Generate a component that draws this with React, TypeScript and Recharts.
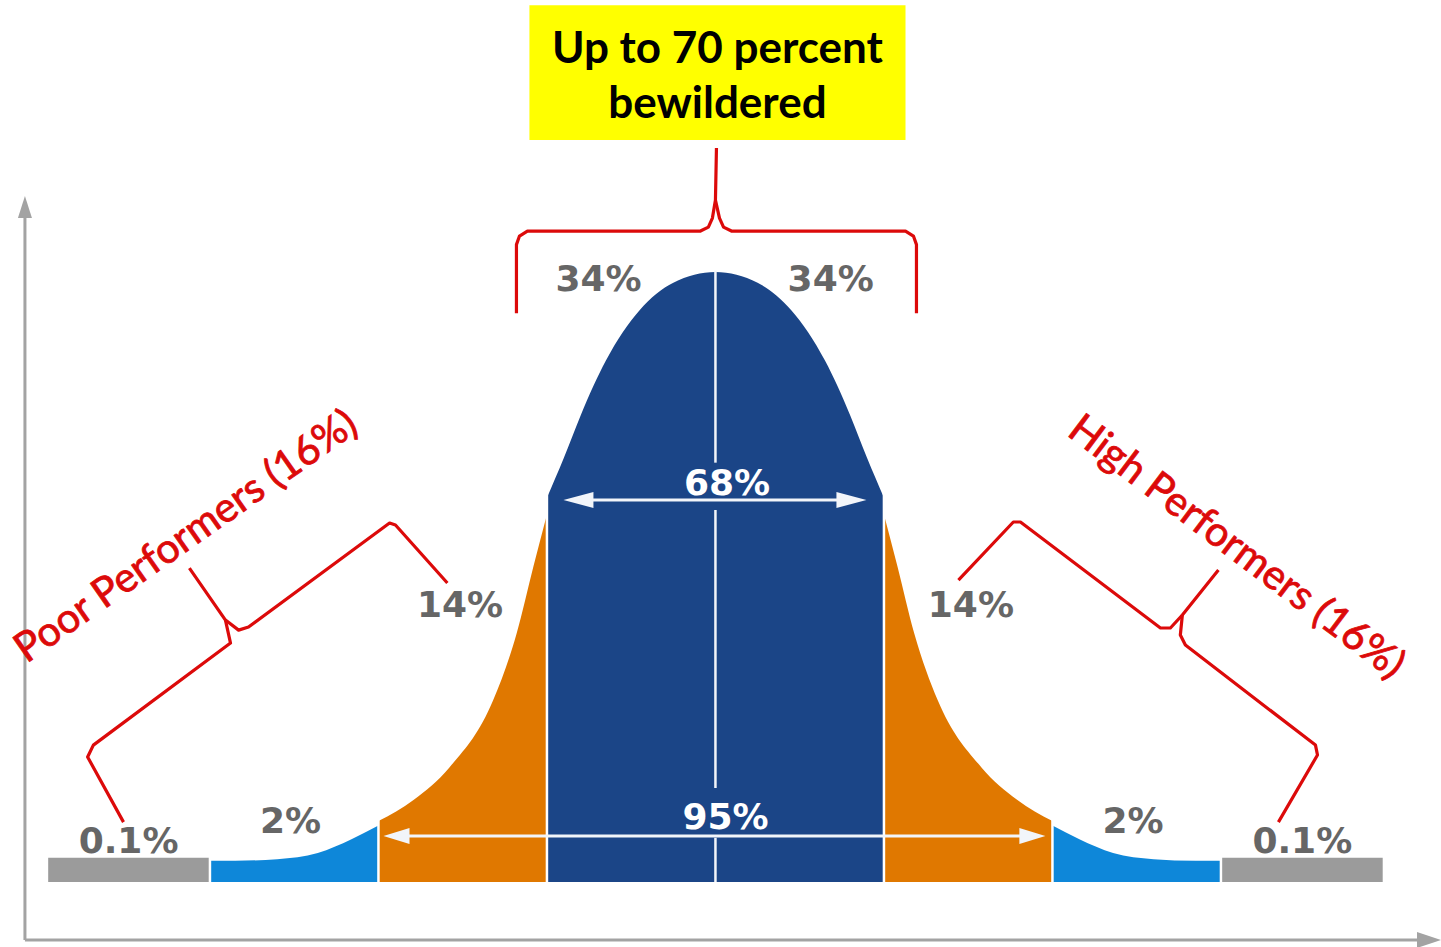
import React from 'react';
import {
  ComposedChart,
  Area,
  Line,
  XAxis,
  YAxis,
  ReferenceLine,
  ReferenceDot,
  ReferenceArea,
} from 'recharts';

// x = distance from the mean in standard deviations, y = relative density (peak 0.40)
const grayTailLeft = [
  { x: -3.96, y: 0.016 },
  { x: -3, y: 0.016 },
];
const blueTailLeft = [
  { x: -3, y: 0.014 },
  { x: -2.85, y: 0.014 },
  { x: -2.6, y: 0.015 },
  { x: -2.36, y: 0.019 },
  { x: -2.16, y: 0.028 },
  { x: -2, y: 0.037 },
];
const orangeLeft = [
  { x: -2, y: 0.04 },
  { x: -1.79, y: 0.054 },
  { x: -1.58, y: 0.075 },
  { x: -1.32, y: 0.119 },
  { x: -1.18, y: 0.163 },
  { x: -1.08, y: 0.207 },
  { x: -1, y: 0.241 },
];
const centerBand = [
  { x: -1, y: 0.252 },
  { x: -0.9, y: 0.278 },
  { x: -0.8, y: 0.306 },
  { x: -0.65, y: 0.342 },
  { x: -0.45, y: 0.375 },
  { x: -0.25, y: 0.393 },
  { x: 0, y: 0.4 },
  { x: 0.25, y: 0.393 },
  { x: 0.45, y: 0.375 },
  { x: 0.65, y: 0.342 },
  { x: 0.8, y: 0.306 },
  { x: 0.9, y: 0.278 },
  { x: 1, y: 0.252 },
];
const orangeRight = [
  { x: 1, y: 0.241 },
  { x: 1.08, y: 0.207 },
  { x: 1.18, y: 0.163 },
  { x: 1.32, y: 0.119 },
  { x: 1.58, y: 0.075 },
  { x: 1.79, y: 0.054 },
  { x: 2, y: 0.04 },
];
const blueTailRight = [
  { x: 2, y: 0.037 },
  { x: 2.16, y: 0.028 },
  { x: 2.36, y: 0.019 },
  { x: 2.6, y: 0.015 },
  { x: 2.85, y: 0.014 },
  { x: 3, y: 0.014 },
];
const grayTailRight = [
  { x: 3, y: 0.016 },
  { x: 3.96, y: 0.016 },
];

const bandLabels = ['0.1%', '2%', '14%', '34%', '34%', '14%', '2%', '0.1%'];
const bandLabelX = [-3.483, -2.522, -1.516, -0.694, 0.684, 1.516, 2.478, 3.483];
const bandLabelY = [0.019, 0.032, 0.174, 0.3875, 0.3875, 0.174, 0.032, 0.019];

const spanLabels = ['68%', '95%'];
const titleLines = ['Up to 70 percent', 'bewildered'];
const groupLabels = ['Poor Performers (16%)', 'High Performers (16%)'];

// red curly brackets, in chart units
const braceTopLeft = [
  { x: -1.181, y: 0.373 },
  { x: -1.181, y: 0.418 },
  { x: -1.163, y: 0.4236 },
  { x: -1.116, y: 0.4269 },
  { x: -0.089, y: 0.4269 },
  { x: -0.042, y: 0.4295 },
  { x: -0.018, y: 0.4354 },
  { x: 0, y: 0.4472 },
  { x: 0.006, y: 0.4813 },
];
const braceTopRight = [
  { x: 0, y: 0.4472 },
  { x: 0.024, y: 0.4354 },
  { x: 0.048, y: 0.4295 },
  { x: 0.095, y: 0.4269 },
  { x: 1.128, y: 0.4269 },
  { x: 1.175, y: 0.4236 },
  { x: 1.193, y: 0.418 },
  { x: 1.193, y: 0.373 },
];
const bracePoorA = [
  { x: -3.513, y: 0.0393 },
  { x: -3.726, y: 0.082 },
  { x: -3.692, y: 0.0898 },
  { x: -2.878, y: 0.1567 },
  { x: -2.908, y: 0.1718 },
  { x: -3.122, y: 0.2059 },
];
const bracePoorB = [
  { x: -2.908, y: 0.1718 },
  { x: -2.83, y: 0.1652 },
  { x: -2.771, y: 0.1672 },
  { x: -1.934, y: 0.2354 },
  { x: -1.899, y: 0.2341 },
  { x: -1.591, y: 0.1961 },
];
const braceHighA = [
  { x: 1.442, y: 0.198 },
  { x: 1.768, y: 0.2361 },
  { x: 1.81, y: 0.2361 },
  { x: 2.641, y: 0.1666 },
  { x: 2.7, y: 0.1666 },
  { x: 2.771, y: 0.1751 },
  { x: 2.985, y: 0.2046 },
];
const braceHighB = [
  { x: 2.771, y: 0.1751 },
  { x: 2.759, y: 0.162 },
  { x: 2.789, y: 0.1554 },
  { x: 3.561, y: 0.0898 },
  { x: 3.573, y: 0.0833 },
  { x: 3.341, y: 0.0393 },
];

const bands = [
  { key: 'g1', data: grayTailLeft, color: '#9b9b9b' },
  { key: 'b1', data: blueTailLeft, color: '#0e87d9' },
  { key: 'o1', data: orangeLeft, color: '#e07800' },
  { key: 'c', data: centerBand, color: '#1b4587' },
  { key: 'o2', data: orangeRight, color: '#e07800' },
  { key: 'b2', data: blueTailRight, color: '#0e87d9' },
  { key: 'g2', data: grayTailRight, color: '#9b9b9b' },
];
const braces = [braceTopLeft, braceTopRight, bracePoorA, bracePoorB, braceHighA, braceHighB];

const RED = '#dc0a0a';
const AXIS = '#a3a3a3';
const ARROW = '#f2f5fa';

function arrowShape(both: boolean, color: string, width: number, len: number, half: number) {
  return (p: any) => {
    const { x1, y1, x2, y2 } = p;
    const a = Math.atan2(y2 - y1, x2 - x1);
    const head = (tx: number, ty: number, d: number) => {
      const bx = tx - len * Math.cos(d);
      const by = ty - len * Math.sin(d);
      const nx = -Math.sin(d) * half;
      const ny = Math.cos(d) * half;
      return `${tx},${ty} ${bx + nx},${by + ny} ${bx - nx},${by - ny}`;
    };
    const sx = both ? x1 + (len - 2) * Math.cos(a) : x1;
    const sy = both ? y1 + (len - 2) * Math.sin(a) : y1;
    const ex = x2 - (len - 2) * Math.cos(a);
    const ey = y2 - (len - 2) * Math.sin(a);
    return (
      <g>
        <line x1={sx} y1={sy} x2={ex} y2={ey} stroke={color} strokeWidth={width} />
        <polygon points={head(x2, y2, a)} fill={color} />
        {both && <polygon points={head(x1, y1, a + Math.PI)} fill={color} />}
      </g>
    );
  };
}

function textShape(label: string, style: any, rotate = 0) {
  return (p: any) => (
    <text
      x={p.cx}
      y={p.cy}
      textAnchor="middle"
      transform={rotate ? `rotate(${rotate} ${p.cx} ${p.cy})` : undefined}
      {...style}
    >
      {label}
    </text>
  );
}

const pctStyle = {
  fontFamily: 'DejaVu Sans, Verdana, sans-serif',
  fontWeight: 700,
  fontSize: 36,
};
const redStyle = {
  fontFamily: 'Lato, sans-serif',
  fontSize: 41,
  fill: RED,
  stroke: RED,
  strokeWidth: 0.8,
  dominantBaseline: 'central',
};
const titleStyle = {
  fontFamily: 'Lato, sans-serif',
  fontWeight: 700,
  fontSize: 44,
  fill: '#000',
};

export default function App() {
  return (
    <div style={{ position: 'absolute', left: 0, top: 0, width: 1441, height: 947, background: '#fff' }}>
      <ComposedChart width={1441} height={947} margin={{ top: 0, right: 0, bottom: 0, left: 0 }}>
        <XAxis type="number" dataKey="x" domain={[-4.246, 4.306]} hide allowDataOverflow />
        <YAxis type="number" dataKey="y" domain={[-0.0426, 0.5784]} hide allowDataOverflow />

        {bands.map((b) => (
          <Area
            key={b.key}
            data={b.data}
            dataKey="y"
            type="monotone"
            baseValue={0}
            fill={b.color}
            fillOpacity={1}
            stroke="none"
            dot={false}
            activeDot={false}
            isAnimationActive={false}
          />
        ))}

        {braces.map((pts, i) => (
          <Line
            key={`brace-${i}`}
            data={pts}
            dataKey="y"
            type="linear"
            stroke={RED}
            strokeWidth={3.2}
            strokeLinejoin="round"
            dot={false}
            activeDot={false}
            isAnimationActive={false}
          />
        ))}

        {/* white gaps between the bands */}
        {[
          [-3, 0.02],
          [-2, 0.045],
          [-1, 0.26],
          [1, 0.26],
          [2, 0.045],
          [3, 0.02],
        ].map(([x, top]) => (
          <ReferenceLine
            key={`sep-${x}`}
            segment={[
              { x, y: -0.002 },
              { x, y: top },
            ]}
            stroke="#ffffff"
            strokeWidth={2.5}
          />
        ))}

        {/* mean line, broken around the span labels */}
        {[
          [0, 0.029],
          [0.0616, 0.244],
          [0.275, 0.401],
        ].map(([y1, y2]) => (
          <ReferenceLine
            key={`mean-${y1}`}
            segment={[
              { x: 0, y: y1 },
              { x: 0, y: y2 },
            ]}
            stroke={ARROW}
            strokeWidth={2.5}
          />
        ))}

        <ReferenceLine
          segment={[
            { x: -0.902, y: 0.2505 },
            { x: 0.896, y: 0.2505 },
          ]}
          shape={arrowShape(true, ARROW, 3, 30, 8)}
        />
        <ReferenceLine
          segment={[
            { x: -1.97, y: 0.0302 },
            { x: 1.958, y: 0.0302 },
          ]}
          shape={arrowShape(true, ARROW, 3, 26, 8)}
        />

        {/* axes */}
        <ReferenceLine
          segment={[
            { x: -4.098, y: -0.038 },
            { x: -4.098, y: 0.4498 },
          ]}
          shape={arrowShape(false, AXIS, 3, 22, 7)}
        />
        <ReferenceLine
          segment={[
            { x: -4.098, y: -0.038 },
            { x: 4.306, y: -0.038 },
          ]}
          shape={arrowShape(false, AXIS, 3, 24, 8)}
        />

        {bandLabels.map((label, i) => (
          <ReferenceDot
            key={`bl-${i}`}
            x={bandLabelX[i]}
            y={bandLabelY[i]}
            r={0}
            shape={textShape(label, { ...pctStyle, fill: '#666666' })}
          />
        ))}
        <ReferenceDot x={0.069} y={0.254} r={0} shape={textShape(spanLabels[0], { ...pctStyle, fill: '#ffffff' })} />
        <ReferenceDot x={0.06} y={0.035} r={0} shape={textShape(spanLabels[1], { ...pctStyle, fill: '#ffffff' })} />

        <ReferenceDot x={-3.151} y={0.228} r={0} shape={textShape(groupLabels[0], redStyle, -35)} />
        <ReferenceDot x={3.102} y={0.221} r={0} shape={textShape(groupLabels[1], redStyle, 37)} />

        <ReferenceArea x1={-1.104} x2={1.128} y1={0.4866} y2={0.575} fill="#ffff00" fillOpacity={1} stroke="none" />
        <ReferenceDot x={0.012} y={0.537} r={0} shape={textShape(titleLines[0], titleStyle)} />
        <ReferenceDot x={0.012} y={0.501} r={0} shape={textShape(titleLines[1], titleStyle)} />
      </ComposedChart>
    </div>
  );
}
